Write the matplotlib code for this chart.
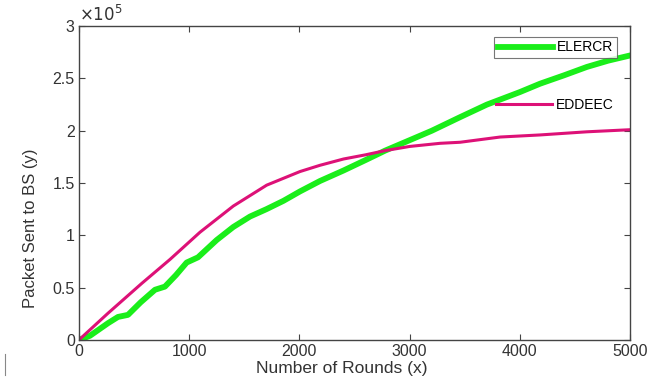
import numpy as np
import matplotlib.pyplot as plt
import matplotlib
from matplotlib.lines import Line2D

matplotlib.rcParams.update({'font.size': 12, 'font.family': 'Liberation Sans'})

# ELERCR (green), y in units of 1e5
x_elercr = [0, 100, 263, 354, 445, 560, 690, 780, 880, 977, 1080, 1249, 1400, 1552,
            1700, 1855, 2005, 2187, 2400, 2600, 2777, 3000, 3200, 3457, 3700, 4000,
            4183, 4400, 4607, 4800, 5000]
y_elercr = [0, 0.04, 0.16, 0.22, 0.24, 0.36, 0.48, 0.51, 0.62, 0.74, 0.79, 0.955, 1.08,
            1.18, 1.25, 1.33, 1.42, 1.52, 1.62, 1.72, 1.81, 1.91, 2.0, 2.13, 2.25, 2.37,
            2.45, 2.53, 2.61, 2.67, 2.72]

# EDDEEC (magenta)
x_eddeec = [0, 263, 569, 826, 1098, 1400, 1703, 2005, 2187, 2400, 2600, 2777, 3000,
            3276, 3457, 3820, 4183, 4607, 5000]
y_eddeec = [0, 0.255, 0.54, 0.77, 1.03, 1.28, 1.48, 1.61, 1.67, 1.73, 1.77, 1.81, 1.85,
            1.88, 1.89, 1.94, 1.96, 1.99, 2.01]

xticks = [0, 1000, 2000, 3000, 4000, 5000]
yticks = [0, 0.5, 1, 1.5, 2, 2.5, 3]
ylabels = ['0', '0.5', '1', '1.5', '2', '2.5', '3']

fig = plt.figure(figsize=(6.47, 3.79), dpi=100)
ax = fig.add_axes([0.122, 0.103, 0.852, 0.828])

l1, = ax.plot(x_elercr, y_elercr, color='#1aee1a', lw=4.2, label='ELERCR',
              solid_joinstyle='round')
l2, = ax.plot(x_eddeec, y_eddeec, color='#dd1177', lw=2.2, label='EDDEEC',
              solid_joinstyle='round')

ax.set_xlim(0, 5000)
ax.set_ylim(0, 3)
ax.set_xticks(xticks)
ax.set_yticks(yticks)
ax.set_yticklabels(ylabels)
ax.text(0.0, 1.008, r'$\times 10^{5}$', transform=ax.transAxes, ha='left', va='bottom',
        fontsize=12, color='#333333')

ax.tick_params(direction='in', top=True, right=True, length=4, color='#444444',
               labelsize=11.5, labelcolor='#333333', pad=3)
for s in ax.spines.values():
    s.set_color('#444444')
    s.set_linewidth(1.0)

ax.set_xlabel('Number of Rounds (x)', fontsize=12.5, color='#333333')
ax.xaxis.set_label_coords(0.477, -0.068)
ax.set_ylabel('Packet Sent to BS (y)', fontsize=12, color='#333333')
ax.yaxis.set_label_coords(-0.075, 0.357)

leg1 = ax.legend(handles=[l1], loc='upper right', bbox_to_anchor=(617 / 647, 342 / 379),
                 bbox_transform=fig.transFigure, frameon=True, fancybox=False,
                 edgecolor='#555555', fontsize=10, handlelength=4.0, handletextpad=0.3,
                 borderpad=0.25, borderaxespad=0)
leg1.get_frame().set_linewidth(0.8)
ax.add_artist(leg1)
ax.legend(handles=[l2], loc='center right', bbox_to_anchor=(617 / 647, 274 / 379),
          bbox_transform=fig.transFigure, frameon=False, fontsize=10, handlelength=4.0,
          handletextpad=0.3, borderpad=0.25, borderaxespad=0)

fig.add_artist(Line2D([0.008, 0.008], [0.01, 0.065], color='#888888', lw=0.8))

fig.savefig('out.png', dpi=100)
